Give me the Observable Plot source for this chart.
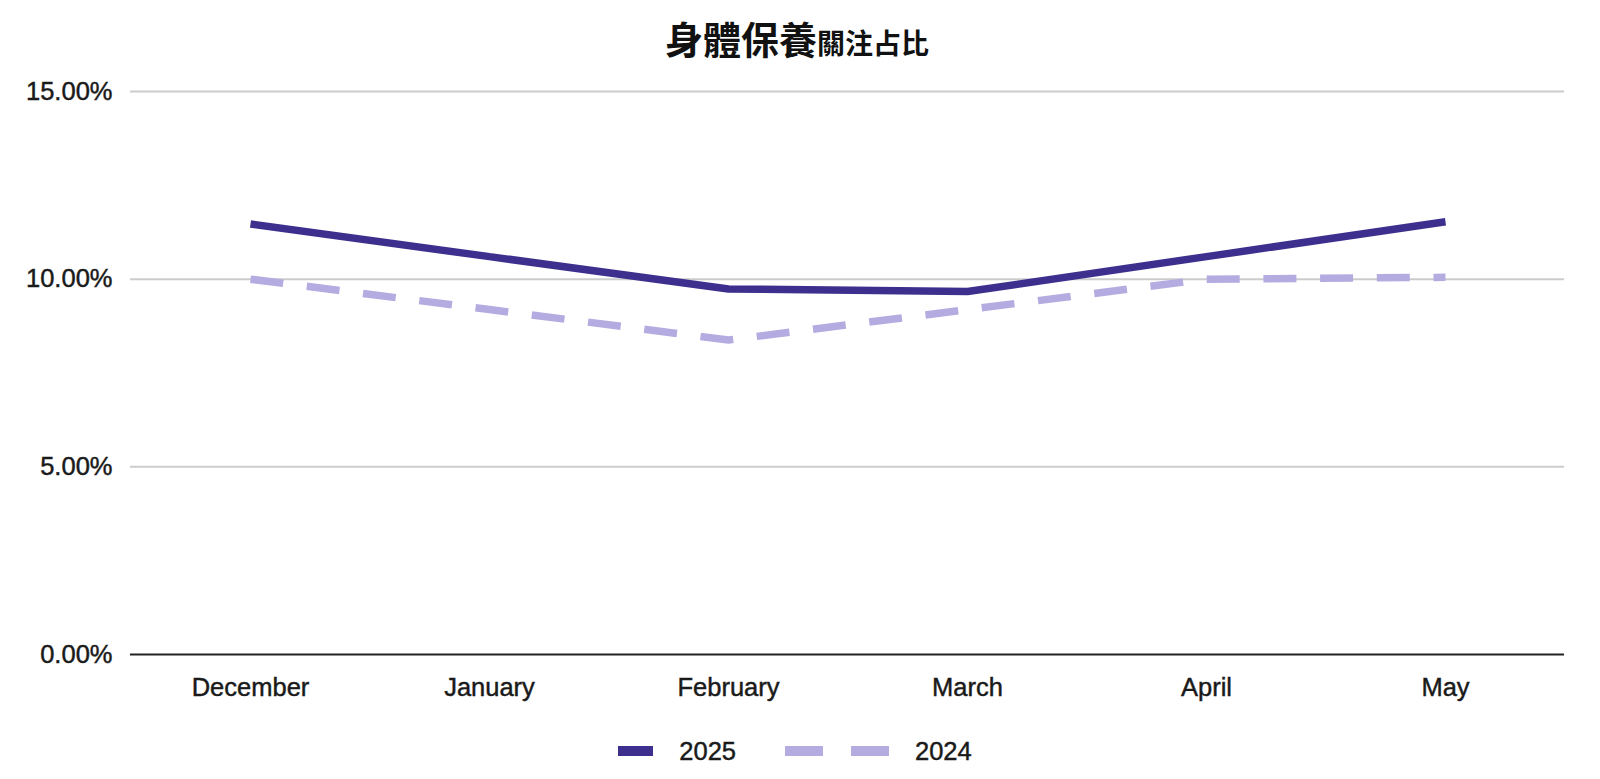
<!DOCTYPE html>
<html>
<head>
<meta charset="utf-8">
<script src="https://cdn.jsdelivr.net/npm/d3@7"></script>
<script src="https://cdn.jsdelivr.net/npm/@observablehq/plot@0.6"></script>
<style>
  html, body { margin: 0; padding: 0; background: #fff; }
  body { width: 1600px; height: 779px; overflow: hidden; font-family: "Liberation Sans", Arial, sans-serif; }
  #title { height: 78px; line-height: 76px; text-align: center; font-family: "Noto Sans CJK TC", sans-serif; font-weight: 700; color: #111; padding-right: 6px; white-space: nowrap; }
  #title .big { font-size: 38px; }
  #title .small { font-size: 28px; }
  #chart svg text { stroke: #1a1a1a; stroke-width: 0.45px; }
  #legend { display: flex; justify-content: center; align-items: center; margin-top: 32px; height: 30px; padding-right: 10px; font-size: 25.5px; color: #1a1a1a; -webkit-text-stroke: 0.45px #1a1a1a; }
  #legend .item { display: flex; align-items: center; }
  #legend .item + .item { margin-left: 49px; }
  #legend svg { display: block; margin-right: 26px; }
</style>
</head>
<body>
<div id="title"><span class="big">身體保養</span><span class="small">關注占比</span></div>
<div id="chart"></div>
<div id="legend"></div>
<script>
// ---- data ----
const months = ["December", "January", "February", "March", "April", "May"];
const values2025 = [11.47, 10.60, 9.74, 9.67, 10.60, 11.53];
const values2024 = [10.00, 9.19, 8.38, 9.19, 10.00, 10.05];
const seriesNames = ["2025", "2024"];
const yTicks = [0, 5, 10, 15];

const colors = {"2025": "#3d2f8e", "2024": "#b4ace1"};
const dashes = {"2025": null, "2024": "33,23.7"};

const rows = [];
months.forEach((m, i) => {
  rows.push({month: m, value: values2025[i], series: "2025"});
  rows.push({month: m, value: values2024[i], series: "2024"});
});
const fmt = d => d.toFixed(2) + "%";

const chart = Plot.plot({
  width: 1600,
  height: 626,
  marginTop: 13,
  marginLeft: 130,
  marginRight: 36,
  marginBottom: 50,
  style: {fontFamily: "'Liberation Sans', Arial, sans-serif", fontSize: "25.5px", color: "#1a1a1a", background: "#fff"},
  x: {type: "point", domain: months, padding: 0.49, label: null},
  y: {domain: [0, 15], label: null},
  marks: [
    Plot.ruleY(yTicks.filter(d => d > 0), {stroke: "#cccccc", strokeWidth: 2}),
    Plot.axisY({ticks: yTicks, tickFormat: fmt, tickSize: 0, tickPadding: 18, label: null}),
    Plot.axisX({tickSize: 0, tickPadding: 23, label: null}),
    Plot.line(rows.filter(d => d.series === "2024"), {x: "month", y: "value", stroke: colors["2024"], strokeWidth: 7.5, strokeDasharray: dashes["2024"], strokeLinecap: "butt", strokeLinejoin: "miter"}),
    Plot.line(rows.filter(d => d.series === "2025"), {x: "month", y: "value", stroke: colors["2025"], strokeWidth: 7.5, strokeLinecap: "butt", strokeLinejoin: "miter"}),
    Plot.ruleY([0], {stroke: "#222", strokeWidth: 2})
  ]
});
document.getElementById("chart").appendChild(chart);

// legend
const legend = document.getElementById("legend");
seriesNames.forEach(name => {
  const item = document.createElement("div");
  item.className = "item";
  const dashed = !!dashes[name];
  const w = dashed ? 104 : 35;
  const ns = "http://www.w3.org/2000/svg";
  const svg = document.createElementNS(ns, "svg");
  svg.setAttribute("width", w);
  svg.setAttribute("height", 12);
  const line = document.createElementNS(ns, "line");
  line.setAttribute("x1", 0); line.setAttribute("x2", w);
  line.setAttribute("y1", 6); line.setAttribute("y2", 6);
  line.setAttribute("stroke", colors[name]);
  line.setAttribute("stroke-width", 10);
  if (dashed) line.setAttribute("stroke-dasharray", "38,28");
  svg.appendChild(line);
  item.appendChild(svg);
  const t = document.createElement("span");
  t.textContent = name;
  item.appendChild(t);
  legend.appendChild(item);
});
</script>
</body>
</html>
